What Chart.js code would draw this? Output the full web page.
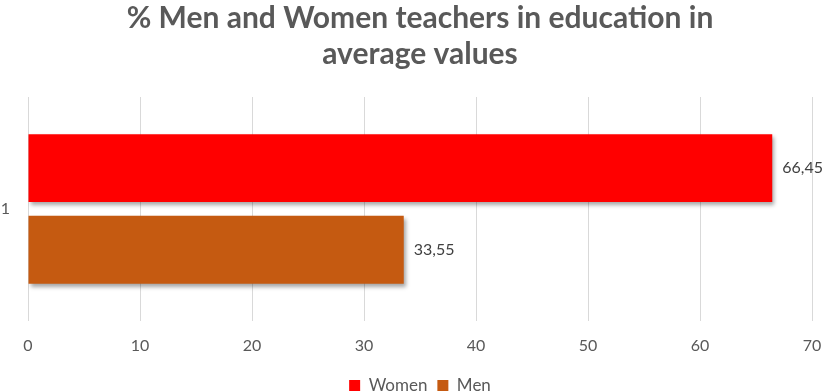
<!DOCTYPE html>
<html>
<head>
<meta charset="utf-8">
<script src="https://cdn.jsdelivr.net/npm/chart.js@4.4.1/dist/chart.umd.min.js"></script>
<style>
  html, body { margin: 0; padding: 0; background: #fff; }
  #wrap { width: 829px; height: 392px; }
</style>
</head>
<body>
<div id="wrap"><canvas id="teachers-chart"></canvas></div>
<script>
    "use strict";

    const categories = ['1'];
    const seriesNames = ['Women', 'Men'];
    const womenValues = [66.45];
    const menValues = [33.55];
    const xTicks = [0, 10, 20, 30, 40, 50, 60, 70];

    const textColor = '#595959';

    // Excel-like soft shadow behind bars
    const barShadow = {
        id: 'barShadow',
        beforeDatasetsDraw(chart) {
            const ctx = chart.ctx;
            ctx.save();
            ctx.shadowColor = 'rgba(0,0,0,0.35)';
            ctx.shadowOffsetX = 2;
            ctx.shadowOffsetY = 3;
            ctx.shadowBlur = 4;
        },
        afterDatasetsDraw(chart) {
            chart.ctx.restore();
        }
    };

    const valueLabels = {
        id: 'valueLabels',
        afterDatasetsDraw(chart) {
            const ctx = chart.ctx;
            ctx.save();
            ctx.font = '16px Lato';
            ctx.fillStyle = '#404040';
            ctx.textAlign = 'left';
            ctx.textBaseline = 'middle';
            chart.data.datasets.forEach((ds, i) => {
                chart.getDatasetMeta(i).data.forEach((bar, j) => {
                    const txt = String(ds.data[j]).replace('.', ',');
                    ctx.fillText(txt, bar.x + 10, bar.y);
                });
            });
            ctx.restore();
        }
    };

    let teachersChart = document.getElementById('teachers-chart');
    if (teachersChart) {
        window.Chart && new Chart(teachersChart, {
            type: 'bar',
            data: {
                labels: categories,
                datasets: [{
                    label: seriesNames[0],
                    data: womenValues,
                    backgroundColor: '#ff0000',
                    borderWidth: 0,
                    barPercentage: 0.83,
                    categoryPercentage: 0.73
                }, {
                    label: seriesNames[1],
                    data: menValues,
                    backgroundColor: '#c55a11',
                    borderWidth: 0,
                    barPercentage: 0.83,
                    categoryPercentage: 0.73
                }]
            },
            options: {
                indexAxis: 'y',
                responsive: true,
                maintainAspectRatio: false,
                animation: false,
                layout: {
                    padding: { left: 0, right: 17, top: 0, bottom: -12 }
                },
                plugins: {
                    title: {
                        display: true,
                        fullSize: false,
                        text: ['% Men and Women teachers in education in', 'average values'],
                        color: textColor,
                        font: { family: 'Lato', size: 30, weight: 'bold', lineHeight: 1.2 },
                        padding: { top: 0, bottom: 25 }
                    },
                    legend: {
                        position: 'bottom',
                        fullSize: false,
                        labels: {
                            color: textColor,
                            boxWidth: 11,
                            boxHeight: 11,
                            padding: 10,
                            font: { family: 'Lato', size: 17 }
                        }
                    },
                    tooltip: { enabled: false }
                },
                scales: {
                    x: {
                        min: 0,
                        max: 70,
                        afterBuildTicks(axis) {
                            axis.ticks = xTicks.map(v => ({ value: v }));
                        },
                        afterFit(axis) {
                            axis.height -= 3;
                            axis.paddingLeft = 0;
                            axis.paddingRight = 0;
                        },
                        grid: { color: '#d9d9d9', drawTicks: false },
                        border: { display: false },
                        ticks: {
                            color: textColor,
                            padding: 15,
                            font: { family: 'Lato', size: 16 }
                        }
                    },
                    y: {
                        afterFit(axis) {
                            axis.width = 28;
                        },
                        grid: { display: false, drawTicks: false },
                        border: { display: false },
                        ticks: {
                            color: textColor,
                            padding: 18,
                            font: { family: 'Lato', size: 16 }
                        }
                    }
                }
            },
            plugins: [barShadow, valueLabels]
        });
    }
</script>
</body>
</html>
